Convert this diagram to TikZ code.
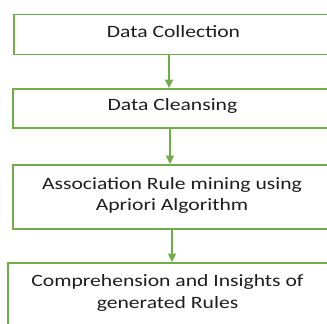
\documentclass[tikz,border=0pt]{standalone}
\usepackage{fontspec}
\setmainfont{Carlito}[FakeStretch=1.25]
\usetikzlibrary{arrows.meta}
\definecolor{boxgreen}{RGB}{112,173,71}
\definecolor{txtgray}{RGB}{30,30,30}
\tikzset{
  box/.style={draw=boxgreen, line width=1.5pt, anchor=north west,
    inner sep=0pt, minimum width=400pt},
  txt/.style={inner sep=0pt, align=center, text=txtgray, font=\fontsize{17.3}{21.5}\selectfont},
  arr/.style={draw=boxgreen, line width=1.1pt, -{Triangle[length=8.5pt,width=8pt]}}
}
\begin{document}
\begin{tikzpicture}[x=1pt,y=-1pt]
\fill[white] (0,0) rectangle (327,324);
\useasboundingbox (0,0) rectangle (327,324);
\node[box, minimum height=40pt] (dc) at (13,13.5) {};
\node[box, minimum height=39pt] (cl) at (12,88) {};
\node[box, minimum height=64pt] (ar) at (12,164) {};
\node[box, minimum height=64pt] (ci) at (7,262) {};
\node[txt] (tdc) at (173.5,31.5) {Data Collection};
\node[txt] (tcl) at (172.5,105.5) {Data Cleansing};
\node[txt] (tar) at (172,195.5) {Association Rule mining using\\Apriori Algorithm};
\node[txt] (tci) at (167.5,293) {Comprehension and Insights of\\generated Rules};
\coordinate (x1) at (169,0);
\coordinate (x2) at (170,0);
\coordinate (x3) at (172,0);
\draw[arr] (dc.south -| x1) -- (cl.north -| x1);
\draw[arr] (cl.south -| x2) -- (ar.north -| x2);
\draw[arr] (ar.south -| x3) -- (ci.north -| x3);
\end{tikzpicture}
\end{document}
